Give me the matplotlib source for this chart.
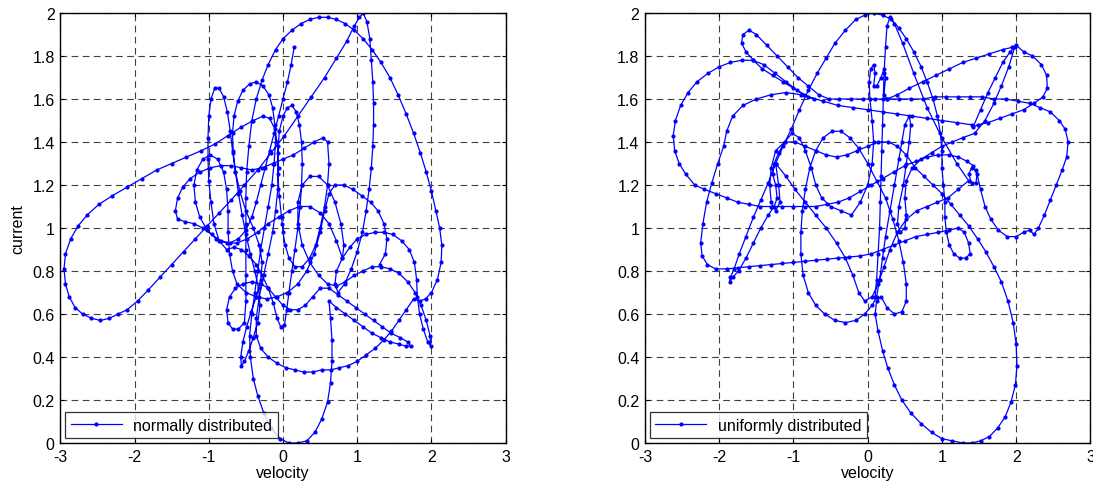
import matplotlib
matplotlib.use("Agg")
import matplotlib.pyplot as plt

plt.rcParams["font.family"] = ["Liberation Sans", "DejaVu Sans"]
plt.rcParams["axes.unicode_minus"] = False

# ---- trajectory driven by normally distributed input (velocity, current) ----
normal_velocity = [
    0.15, 0.11, 0.06, 0.0, -0.06, -0.12, -0.18, -0.24, -0.3, -0.36, -0.42,
    -0.5, -0.6, -0.72, -0.84, -0.96, -1.08, -1.2, -1.32, -1.42,
    -1.45, -1.42, -1.35, -1.25, -1.12, -0.98, -0.84, -0.7, -0.56, -0.42,
    -0.28, -0.14, 0.0, 0.14, 0.28, 0.42, 0.54, 0.6, 0.62, 0.6,
    0.56, 0.5, 0.44, 0.36, 0.26, 0.16, 0.08, 0.03, 0.0, -0.01,
    -0.02, -0.05, -0.07, -0.07, -0.05, 0.0, 0.06, 0.12, 0.18, 0.22,
    0.25, 0.26, 0.25, 0.23, 0.2, 0.16, 0.12, 0.08, 0.05, 0.02,
    -0.03, -0.08, -0.13, -0.2, -0.28, -0.36, -0.46, -0.56, -0.66, -0.76,
    -0.86, -0.93, -0.97, -1.0, -1.01, -1.01, -1.0, -0.97, -0.92, -0.86,
    -0.8, -0.75, -0.71, -0.68, -0.64, -0.6, -0.55, -0.5, -0.44, -0.38,
    -0.33, -0.31, -0.34, -0.4, -0.46, -0.52, -0.56, -0.57, -0.54, -0.49,
    -0.43, -0.36, -0.3, -0.28, -0.32, -0.4, -0.5, -0.58, -0.64, -0.67,
    -0.68, -0.66, -0.61, -0.54, -0.45, -0.36, -0.27, -0.19, -0.14, -0.11,
    -0.1, -0.12, -0.15, -0.2, -0.25, -0.3, -0.34, -0.38, -0.42, -0.45,
    -0.44, -0.4, -0.34, -0.26, -0.16, -0.04, 0.08, 0.2, 0.32, 0.43,
    0.52, 0.6, 0.64, 0.66, 0.66, 0.64, 0.62, 0.72, 0.84, 0.96,
    1.08, 1.2, 1.32, 1.44, 1.56, 1.66, 1.72, 1.68, 1.58, 1.46,
    1.34, 1.22, 1.1, 0.98, 0.86, 0.74, 0.62, 0.5, 0.4, 0.3,
    0.2, 0.1, 0.0, -0.1, -0.2, -0.3, -0.42, -0.54, -0.64, -0.72,
    -0.76, -0.74, -0.68, -0.6, -0.52, -0.5, -0.5, -0.5, -0.5, -0.5,
    -0.49, -0.46, -0.42, -0.36, -0.28, -0.2, -0.1, 0.0, 0.12, 0.24,
    0.36, 0.48, 0.6, 0.72, 0.84, 0.96, 1.08, 1.2, 1.32, 1.44,
    1.55, 1.66, 1.76, 1.85, 1.93, 2.0, 2.06, 2.11, 2.14, 2.13,
    2.08, 2.0, 1.92, 1.84, 1.76, 1.66, 1.56, 1.46, 1.36, 1.24,
    1.12, 1.0, 0.88, 0.76, 0.64, 0.52, 0.4, 0.28, 0.16, 0.04,
    -0.08, -0.2, -0.3, -0.36, -0.36, -0.32, -0.26, -0.2, -0.14, -0.1,
    -0.07, -0.06, -0.07, -0.11, -0.18, -0.27, -0.4, -0.56, -0.74, -0.92,
    -1.1, -1.3, -1.5, -1.7, -1.9, -2.1, -2.3, -2.48, -2.64, -2.76,
    -2.86, -2.93, -2.95, -2.93, -2.88, -2.8, -2.7, -2.58, -2.46, -2.34,
    -2.22, -2.1, -1.96, -1.82, -1.66, -1.5, -1.34, -1.18, -1.02, -0.86,
    -0.7, -0.52, -0.34, -0.16, 0.02, 0.2, 0.38, 0.56, 0.72, 0.86,
    0.96, 1.03, 1.08, 1.13, 1.17, 1.19, 1.21, 1.22, 1.22, 1.21,
    1.19, 1.16, 1.12, 1.07, 1.0, 0.92, 0.83, 0.74, 0.7, 0.72,
    0.8, 0.9, 1.0, 1.12, 1.24, 1.36, 1.48, 1.6, 1.7, 1.77,
    1.8, 1.81, 1.84, 1.89, 1.95, 1.99, 1.98, 1.93, 1.86, 1.78,
    1.68, 1.56, 1.44, 1.32, 1.2, 1.08, 0.96, 0.84, 0.72, 0.6,
    0.48, 0.36, 0.26, 0.2, 0.2, 0.26, 0.36, 0.48, 0.6, 0.7,
    0.78, 0.82, 0.8, 0.72, 0.62, 0.5, 0.36, 0.22, 0.08, -0.06,
    -0.2, -0.34, -0.48, -0.62, -0.76, -0.9, -1.02, -1.12, -1.18, -1.2,
    -1.16, -1.08, -0.98, -0.88, -0.8, -0.76, -0.74, -0.74, -0.72, -0.68,
    -0.62, -0.5, -0.36, -0.22, -0.08, 0.06, 0.2, 0.32, 0.42, 0.5,
    0.56, 0.62, 0.7, 0.82, 0.94, 1.06, 1.18, 1.28, 1.36, 1.4, 1.38, 1.3,
]
normal_current = [
    1.84, 1.76, 1.68, 1.6, 1.52, 1.44, 1.36, 1.28, 1.2, 1.12, 1.05,
    0.99, 0.95, 0.93, 0.94, 0.97, 1.0, 1.02, 1.03, 1.04,
    1.08, 1.14, 1.19, 1.23, 1.26, 1.28, 1.29, 1.29, 1.28, 1.27,
    1.28, 1.3, 1.32, 1.34, 1.37, 1.4, 1.42, 1.4, 1.3, 1.2,
    1.1, 1.0, 0.92, 0.86, 0.82, 0.82, 0.86, 0.92, 0.98, 1.02,
    1.05, 1.15, 1.25, 1.35, 1.45, 1.52, 1.56, 1.57, 1.54, 1.48,
    1.4, 1.3, 1.2, 1.1, 1.0, 0.9, 0.8, 0.7, 0.62, 0.55,
    0.54, 0.58, 0.65, 0.72, 0.78, 0.83, 0.87, 0.9, 0.91, 0.9,
    0.94, 1.02, 1.12, 1.22, 1.32, 1.42, 1.52, 1.6, 1.65, 1.65,
    1.61, 1.54, 1.45, 1.36, 1.26, 1.16, 1.06, 0.97, 0.88, 0.8,
    0.72, 0.64, 0.56, 0.49, 0.43, 0.38, 0.36, 0.4, 0.47, 0.54,
    0.61, 0.68, 0.76, 0.84, 0.92, 1.0, 1.08, 1.17, 1.26, 1.35,
    1.44, 1.52, 1.59, 1.64, 1.67, 1.68, 1.66, 1.62, 1.56, 1.48,
    1.4, 1.3, 1.2, 1.1, 1.0, 0.9, 0.8, 0.7, 0.6, 0.5,
    0.4, 0.3, 0.22, 0.14, 0.07, 0.02, 0.0, 0.0, 0.01, 0.05,
    0.11, 0.19, 0.28, 0.38, 0.48, 0.58, 0.66, 0.63, 0.6, 0.57,
    0.54, 0.51, 0.49, 0.47, 0.46, 0.45, 0.45, 0.47, 0.49, 0.51,
    0.54, 0.57, 0.6, 0.63, 0.66, 0.69, 0.72, 0.72, 0.68, 0.64,
    0.62, 0.62, 0.64, 0.68, 0.72, 0.74, 0.75, 0.74, 0.72, 0.68,
    0.62, 0.56, 0.53, 0.53, 0.56, 0.66, 0.78, 0.9, 1.02, 1.14,
    1.26, 1.38, 1.5, 1.6, 1.69, 1.76, 1.83, 1.88, 1.92, 1.95,
    1.97, 1.98, 1.98, 1.97, 1.95, 1.92, 1.88, 1.83, 1.77, 1.7,
    1.62, 1.53, 1.44, 1.35, 1.26, 1.17, 1.08, 1.0, 0.92, 0.84,
    0.76, 0.7, 0.67, 0.66, 0.67, 0.62, 0.57, 0.52, 0.48, 0.44,
    0.41, 0.38, 0.36, 0.35, 0.34, 0.34, 0.33, 0.33, 0.34, 0.35,
    0.37, 0.4, 0.44, 0.5, 0.58, 0.68, 0.78, 0.88, 0.98, 1.08,
    1.18, 1.28, 1.38, 1.46, 1.51, 1.52, 1.5, 1.47, 1.43, 1.39,
    1.36, 1.33, 1.3, 1.27, 1.23, 1.19, 1.15, 1.11, 1.06, 1.01,
    0.95, 0.88, 0.81, 0.74, 0.68, 0.63, 0.6, 0.58, 0.57, 0.58,
    0.6, 0.62, 0.66, 0.71, 0.77, 0.83, 0.89, 0.95, 1.01, 1.07,
    1.13, 1.2, 1.27, 1.35, 1.43, 1.52, 1.61, 1.7, 1.79, 1.87,
    1.94, 1.98, 2.0, 1.96, 1.88, 1.78, 1.68, 1.58, 1.48, 1.38,
    1.28, 1.18, 1.08, 0.98, 0.89, 0.81, 0.74, 0.7, 0.74, 0.8,
    0.86, 0.91, 0.95, 0.97, 0.98, 0.98, 0.97, 0.94, 0.9, 0.84,
    0.76, 0.68, 0.6, 0.53, 0.47, 0.45, 0.5, 0.57, 0.64, 0.7,
    0.75, 0.79, 0.81, 0.82, 0.82, 0.8, 0.78, 0.75, 0.73, 0.74,
    0.78, 0.84, 0.92, 1.02, 1.12, 1.2, 1.24, 1.24, 1.2, 1.12,
    1.02, 0.92, 0.86, 0.94, 1.02, 1.07, 1.1, 1.1, 1.08, 1.05,
    1.02, 0.98, 0.95, 0.93, 0.93, 0.95, 0.99, 1.05, 1.12, 1.2,
    1.27, 1.32, 1.34, 1.32, 1.26, 1.18, 1.08, 0.98, 0.88, 0.8,
    0.74, 0.7, 0.68, 0.67, 0.68, 0.7, 0.74, 0.8, 0.88, 0.98,
    1.08, 1.16, 1.2, 1.2, 1.18, 1.15, 1.12, 1.08, 1.02, 0.95, 0.88, 0.83,
]

# ---- trajectory driven by uniformly distributed input (velocity, current) ----
uniform_velocity = [
    1.4, 1.2, 1.0, 0.8, 0.6, 0.4, 0.2, 0.0, -0.2, -0.4,
    -0.6, -0.8, -0.95, -1.1, -1.25, -1.4, -1.55, -1.7, -1.85, -2.0,
    -2.15, -2.3, -2.42, -2.52, -2.59, -2.62, -2.6, -2.54, -2.45, -2.33,
    -2.2, -2.05, -1.9, -1.75, -1.6, -1.45, -1.3, -1.15, -1.0, -0.85,
    -0.7, -0.55, -0.4, -0.25, -0.1, 0.05, 0.2, 0.35, 0.5, 0.65,
    0.8, 0.95, 1.1, 1.22, 1.34, 1.42, 1.47, 1.46, 1.4, 1.36,
    1.4, 1.46, 1.52, 1.58, 1.66, 1.76, 1.88, 2.0, 2.1, 2.18,
    2.24, 2.3, 2.38, 2.46, 2.54, 2.62, 2.68, 2.7, 2.66, 2.58,
    2.46, 2.32, 2.18, 2.02, 1.86, 1.7, 1.54, 1.38, 1.22, 1.06,
    0.9, 0.74, 0.58, 0.42, 0.26, 0.1, -0.06, -0.22, -0.38, -0.52,
    -0.66, -0.8, -0.94, -1.08, -1.22, -1.36, -1.5, -1.6, -1.68, -1.7,
    -1.64, -1.54, -1.42, -1.28, -1.14, -1.0, -0.86, -0.72, -0.9, -1.1,
    -1.3, -1.5, -1.68, -1.82, -1.9, -1.94, -2.02, -2.1, -2.17, -2.22,
    -2.25, -2.23, -2.16, -2.05, -1.9, -1.75, -1.6, -1.45, -1.3, -1.15,
    -1.0, -0.85, -0.7, -0.55, -0.4, -0.25, -0.1, 0.05, 0.2, 0.35,
    0.5, 0.65, 0.8, 0.95, 1.1, 1.22, 1.3, 1.36, 1.38, 1.32,
    1.24, 1.16, 1.1, 1.06, 1.04, 1.04, 1.02, 1.0, 1.0, 0.98,
    0.94, 0.88, 0.8, 0.72, 0.62, 0.52, 0.42, 0.32, 0.2, 0.08,
    -0.04, -0.16, -0.3, -0.44, -0.56, -0.68, -0.8, -0.92, -1.03, -1.14,
    -1.24, -1.34, -1.44, -1.54, -1.64, -1.73, -1.8, -1.85, -1.86, -1.82,
    -1.74, -1.64, -1.54, -1.44, -1.34, -1.26, -1.22, -1.24, -1.28, -1.26,
    -1.2, -1.12, -1.02, -0.92, -0.84, -0.76, -0.7, -0.62, -0.5, -0.36,
    -0.22, -0.1, 0.0, 0.06, 0.08, 0.06, 0.03, 0.02, 0.04, 0.08,
    0.1, 0.08, 0.12, 0.18, 0.22, 0.24, 0.22, 0.26, 0.4, 0.56,
    0.74, 0.92, 1.1, 1.28, 1.46, 1.64, 1.82, 1.94, 2.0, 2.1,
    2.22, 2.34, 2.41, 2.42, 2.36, 2.24, 2.1, 1.94, 1.78, 1.62,
    1.48, 1.42, 1.52, 1.62, 1.72, 1.82, 1.92, 1.98, 1.9, 1.8,
    1.7, 1.58, 1.44, 1.28, 1.14, 1.0, 0.86, 0.72, 0.6, 0.52,
    0.5, 0.52, 0.5, 0.44, 0.4, 0.42, 0.48, 0.52, 0.56, 0.58,
    0.56, 0.5, 0.46, 0.42, 0.36, 0.3, 0.24, 0.2, 0.16, 0.12,
    0.06, -0.04, -0.16, -0.3, -0.44, -0.58, -0.7, -0.8, -0.87, -0.9,
    -0.9, -0.88, -0.84, -0.78, -0.7, -0.6, -0.48, -0.36, -0.24, -0.12,
    0.0, 0.12, 0.24, 0.34, 0.42, 0.48, 0.52, 0.52, 0.46, 0.36,
    0.26, 0.18, 0.12, 0.1, 0.14, 0.2, 0.27, 0.36, 0.46, 0.58,
    0.72, 0.86, 1.0, 1.14, 1.28, 1.4, 1.52, 1.64, 1.75, 1.85,
    1.93, 1.99, 2.01, 2.0, 1.96, 1.89, 1.8, 1.7, 1.59, 1.48,
    1.36, 1.24, 1.12, 1.0, 0.88, 0.76, 0.64, 0.52, 0.4, 0.28,
    0.14, 0.0, -0.14, -0.28, -0.42, -0.56, -0.7, -0.84, -0.98, -1.12,
    -1.24, -1.3, -1.32, -1.3, -1.24, -1.18, -1.2, -1.24, -1.1, -0.98,
    -0.84, -0.7, -0.56, -0.42, -0.3, -0.2, -0.12, -0.04, 0.06, 0.14,
    0.22, 0.3, 0.4, 0.52, 0.66, 0.8, 0.94, 1.08, 1.22, 1.36,
    1.2, 1.0, 0.8, 0.62, 0.47, 0.36, 0.3, 0.26, 0.24, 0.22,
    0.21, 0.2, 0.19, 0.18, 0.17, 0.16, 0.14, 0.12, 0.1,
]
uniform_current = [
    1.48, 1.49, 1.5, 1.51, 1.52, 1.53, 1.54, 1.55, 1.56, 1.57,
    1.59, 1.61, 1.64, 1.68, 1.72, 1.76, 1.78, 1.78, 1.77, 1.75,
    1.72, 1.68, 1.63, 1.57, 1.5, 1.43, 1.36, 1.3, 1.25, 1.2,
    1.18, 1.16, 1.14, 1.12, 1.11, 1.1, 1.1, 1.1, 1.1, 1.1,
    1.1, 1.11, 1.12, 1.14, 1.17, 1.2, 1.23, 1.26, 1.29, 1.31,
    1.33, 1.34, 1.34, 1.33, 1.31, 1.29, 1.25, 1.21, 1.21, 1.25,
    1.28, 1.27, 1.18, 1.1, 1.04, 0.99, 0.96, 0.96, 0.98, 0.99,
    0.97, 1.0, 1.06, 1.13, 1.2, 1.27, 1.33, 1.4, 1.46, 1.5,
    1.54, 1.56, 1.58, 1.59, 1.6, 1.6, 1.61, 1.61, 1.61, 1.61,
    1.61, 1.6, 1.6, 1.6, 1.6, 1.6, 1.6, 1.6, 1.6, 1.6,
    1.62, 1.66, 1.7, 1.75, 1.8, 1.85, 1.9, 1.92, 1.9, 1.86,
    1.82, 1.78, 1.74, 1.71, 1.68, 1.65, 1.62, 1.6, 1.62, 1.63,
    1.62, 1.6, 1.57, 1.52, 1.45, 1.38, 1.3, 1.21, 1.12, 1.02,
    0.93, 0.87, 0.83, 0.81, 0.81, 0.815, 0.82, 0.825, 0.83, 0.835,
    0.84, 0.845, 0.85, 0.855, 0.86, 0.865, 0.87, 0.88, 0.9, 0.92,
    0.94, 0.96, 0.97, 0.98, 0.99, 1.0, 0.98, 0.93, 0.88, 0.86,
    0.86, 0.88, 0.92, 0.98, 1.05, 1.12, 1.2, 1.28, 1.36, 1.44,
    1.52, 1.6, 1.68, 1.75, 1.82, 1.88, 1.93, 1.97, 1.99, 2.0,
    1.99, 1.97, 1.92, 1.86, 1.79, 1.72, 1.64, 1.55, 1.46, 1.38,
    1.3, 1.21, 1.13, 1.05, 0.96, 0.88, 0.81, 0.77, 0.75, 0.77,
    0.8, 0.86, 0.93, 1.0, 1.06, 1.1, 1.14, 1.2, 1.25, 1.3,
    1.35, 1.4, 1.44, 1.42, 1.36, 1.28, 1.2, 1.14, 1.1, 1.08,
    1.06, 1.12, 1.2, 1.3, 1.4, 1.5, 1.6, 1.68, 1.74, 1.76,
    1.72, 1.66, 1.66, 1.7, 1.74, 1.7, 1.62, 1.6, 1.62, 1.65,
    1.68, 1.71, 1.74, 1.77, 1.79, 1.81, 1.83, 1.84, 1.85, 1.82,
    1.8, 1.76, 1.71, 1.65, 1.61, 1.58, 1.55, 1.53, 1.51, 1.49,
    1.48, 1.47, 1.55, 1.63, 1.7, 1.77, 1.82, 1.84, 1.75, 1.66,
    1.58, 1.5, 1.44, 1.42, 1.4, 1.38, 1.35, 1.32, 1.28, 1.22,
    1.14, 1.06, 1.0, 0.98, 1.02, 1.1, 1.2, 1.3, 1.4, 1.48,
    1.52, 1.48, 1.4, 1.32, 1.2, 1.08, 0.96, 0.86, 0.76, 0.68,
    0.64, 0.6, 0.57, 0.56, 0.57, 0.6, 0.64, 0.7, 0.78, 0.88,
    0.98, 1.08, 1.18, 1.28, 1.36, 1.42, 1.45, 1.45, 1.42, 1.37,
    1.3, 1.22, 1.14, 1.04, 0.94, 0.84, 0.74, 0.66, 0.61, 0.6,
    0.63, 0.68, 0.66, 0.6, 0.52, 0.43, 0.35, 0.27, 0.2, 0.14,
    0.09, 0.05, 0.02, 0.01, 0.0, 0.0, 0.01, 0.03, 0.07, 0.12,
    0.19, 0.27, 0.36, 0.46, 0.56, 0.66, 0.75, 0.82, 0.89, 0.95,
    1.01, 1.06, 1.11, 1.16, 1.2, 1.24, 1.28, 1.34, 1.38, 1.4,
    1.4, 1.38, 1.36, 1.34, 1.33, 1.34, 1.36, 1.38, 1.4, 1.4,
    1.36, 1.28, 1.2, 1.12, 1.08, 1.12, 1.2, 1.3, 1.24, 1.18,
    1.12, 1.06, 1.0, 0.93, 0.86, 0.78, 0.7, 0.66, 0.68, 0.74,
    0.82, 0.9, 0.98, 1.04, 1.08, 1.1, 1.12, 1.14, 1.18, 1.22,
    1.3, 1.42, 1.56, 1.72, 1.86, 1.95, 1.98, 1.94, 1.84, 1.72,
    1.6, 1.48, 1.36, 1.24, 1.12, 1.0, 0.88, 0.76, 0.68,
]

x_ticks = [-3, -2, -1, 0, 1, 2, 3]
x_tick_labels = ["-3", "-2", "-1", "0", "1", "2", "3"]
y_ticks = [0, 0.2, 0.4, 0.6, 0.8, 1.0, 1.2, 1.4, 1.6, 1.8, 2.0]
y_tick_labels = ["0", "0.2", "0.4", "0.6", "0.8", "1", "1.2", "1.4", "1.6", "1.8", "2"]

panels = [
    (normal_velocity, normal_current, "normally distributed"),
    (uniform_velocity, uniform_current, "uniformly distributed"),
]

W, H = 1093, 489
fig = plt.figure(figsize=(W / 100, H / 100), dpi=100)
ax_left = fig.add_axes([60.3 / W, 45 / H, 445.4 / W, 430 / H])
ax_right = fig.add_axes([645 / W, 45 / H, 445.4 / W, 430 / H])

for ax, (vel, cur, name) in zip([ax_left, ax_right], panels):
    ax.plot(vel, cur, "-", color="#0000ff", linewidth=0.9,
            marker="o", markersize=3.0, markeredgewidth=0, label=name)
    ax.set_xlim(-3, 3)
    ax.set_ylim(0, 2)
    ax.set_xticks(x_ticks)
    ax.set_xticklabels(x_tick_labels)
    ax.set_yticks(y_ticks)
    ax.set_yticklabels(y_tick_labels)
    ax.set_axisbelow(True)
    ax.grid(True, color="0.25", linestyle=(0, (6, 4)), linewidth=0.8)
    ax.tick_params(direction="in", length=3, width=0.8, top=True, right=True,
                   labelsize=11.5, pad=4)
    for spine in ax.spines.values():
        spine.set_linewidth(1.0)
    ax.set_xlabel("velocity", fontsize=11.5, labelpad=1)
    leg = ax.legend(loc="lower left", fontsize=11.5, fancybox=False,
                    edgecolor="black", handlelength=3.2, numpoints=1,
                    borderaxespad=0.3, borderpad=0.35, handletextpad=0.7)
    leg.get_frame().set_linewidth(0.9)

ax_left.set_ylabel("current", fontsize=11.5, labelpad=5)

fig.savefig("out.png", dpi=100)
